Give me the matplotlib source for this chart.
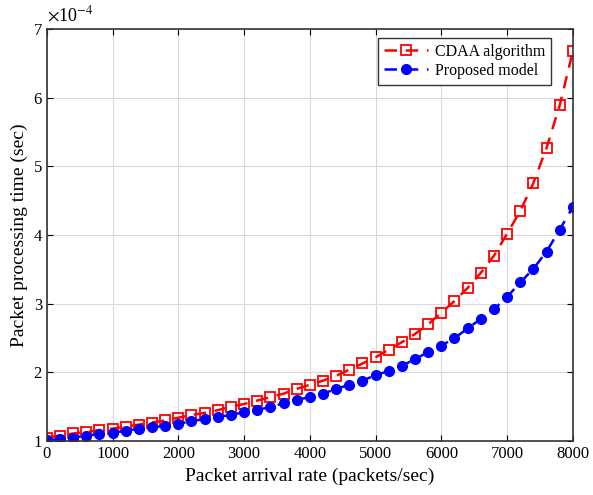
import matplotlib.pyplot as plt

plt.rcParams['font.family'] = ['Liberation Serif', 'DejaVu Serif']
plt.rcParams['font.size'] = 11
plt.rcParams['mathtext.fontset'] = 'stix'

# packet arrival rate (packets/sec)
rate = list(range(0, 8001, 200))

# processing time, in units of 1e-4 sec
cdaa = [1.05, 1.08, 1.11, 1.13, 1.16, 1.18, 1.21, 1.24, 1.27, 1.30,
        1.34, 1.38, 1.41, 1.45, 1.50, 1.54, 1.59, 1.64, 1.69, 1.76,
        1.82, 1.88, 1.95, 2.04, 2.13, 2.22, 2.33, 2.44, 2.56, 2.70,
        2.87, 3.04, 3.23, 3.45, 3.70, 4.02, 4.35, 4.76, 5.27, 5.89, 6.68]
proposed = [1.01, 1.03, 1.05, 1.08, 1.10, 1.12, 1.15, 1.18, 1.20, 1.22,
            1.25, 1.29, 1.32, 1.35, 1.38, 1.42, 1.45, 1.50, 1.55, 1.60,
            1.64, 1.69, 1.76, 1.82, 1.88, 1.96, 2.02, 2.10, 2.19, 2.30,
            2.39, 2.50, 2.64, 2.78, 2.92, 3.10, 3.31, 3.51, 3.76, 4.08, 4.41]

fig = plt.figure(figsize=(5.93, 4.95), dpi=100)
ax = fig.add_axes([0.079, 0.109, 0.887, 0.832])

ax.plot(rate, cdaa, color='red', linestyle=(0, (5, 3.5)), linewidth=1.8,
        marker='s', markersize=7, markerfacecolor='none', markeredgecolor='red',
        markeredgewidth=1.3, label='CDAA algorithm')
ax.plot(rate, proposed, color='blue', linestyle=(0, (5, 3.5)), linewidth=1.8,
        marker='o', markersize=7, markerfacecolor='blue', markeredgecolor='blue',
        label='Proposed model')

ax.set_xlim(0, 8000)
ax.set_ylim(1, 7)
ax.set_xticks(range(0, 8001, 1000))
ax.set_yticks(range(1, 8))
ax.grid(True, color='#d9d9d9', linewidth=0.8)
ax.tick_params(direction='in', top=True, right=True, labelsize=12, length=4)
for s in ax.spines.values():
    s.set_linewidth(1.2)
    s.set_color('#333333')

ax.set_xlabel('Packet arrival rate (packets/sec)', fontsize=14)
ax.set_ylabel('Packet processing time (sec)', fontsize=14)
ax.text(0.0, 1.01, r'$\times$10$^{-4}$', transform=ax.transAxes, fontsize=13,
        ha='left', va='bottom')

leg = ax.legend(loc='upper right', bbox_to_anchor=(0.958, 0.978), fontsize=11.5,
                fancybox=False, edgecolor='#333333', framealpha=1,
                handlelength=2.8, borderpad=0.35, labelspacing=0.2,
                borderaxespad=0, handletextpad=0.4)
leg.get_frame().set_linewidth(1.0)

plt.savefig('out.png', dpi=100)
